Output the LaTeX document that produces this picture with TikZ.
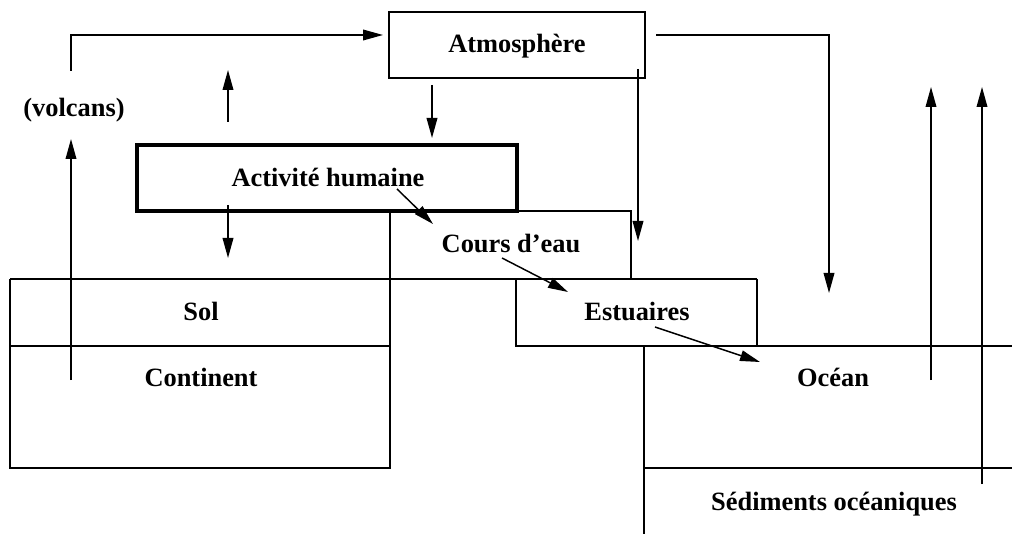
\documentclass[tikz,border=0pt]{standalone}
\usepackage{fontspec}
\setmainfont{Liberation Serif}
\usetikzlibrary{arrows.meta}
\begin{document}
\begin{tikzpicture}[x=0.75pt,y=-0.75pt,
  lbl/.style={inner sep=0pt,anchor=base,font=\fontsize{19.8pt}{22pt}\selectfont\bfseries},
  boxline/.style={line width=2.1pt},
  thickbox/.style={line width=2.7pt},
  flow/.style={line width=1.1pt,-{Triangle[length=15pt,width=8pt]}}]
\useasboundingbox (0,0) rectangle (1012,534);
% boxes
\draw[boxline] (389,12) rectangle (645,78);
\draw[thickbox] (137,145) rectangle (517,211);
\draw[boxline] (390,211) -- (390,279);
\draw[boxline] (517,211) -- (631,211) -- (631,279);
\draw[boxline] (10,279) -- (757,279);
\draw[boxline] (10,279) -- (10,468) -- (390,468) -- (390,279);
\draw[boxline] (10,346) -- (390,346);
\draw[boxline] (516,279) -- (516,346) -- (1012,346);
\draw[boxline] (757,279) -- (757,346);
\draw[boxline] (644,346) -- (644,534);
\draw[boxline] (644,468) -- (1012,468);
% labels
\node[lbl] (atm) at (517,53) {Atmosphère};
\node[lbl] (act) at (328,187) {Activité humaine};
\node[lbl] (cours) at (511,253) {Cours d’eau};
\node[lbl] (sol) at (201,320) {Sol};
\node[lbl] (cont) at (201,386) {Continent};
\node[lbl] (est) at (637,320) {Estuaires};
\node[lbl] (ocean) at (833,386) {Océan};
\node[lbl] (sed) at (834,510) {Sédiments océaniques};
\node[lbl] (volc) at (74,117) {(volcans)};
% arrow end points
\coordinate (a1s) at (71,71);
\coordinate (a1c) at (71,35);
\coordinate (a1e) at (383,35);
\coordinate (a2s) at (71,380);
\coordinate (a2e) at (71,139);
\coordinate (a3s) at (228,122);
\coordinate (a3e) at (228,70);
\coordinate (a4s) at (432,85);
\coordinate (a4e) at (432,138);
\coordinate (a5s) at (228,205);
\coordinate (a5e) at (228,258);
\coordinate (a6s) at (397,189);
\coordinate (a6e) at (433,224);
\coordinate (a7s) at (502,258);
\coordinate (a7e) at (568,292);
\coordinate (a8s) at (655,327);
\coordinate (a8e) at (760,362);
\coordinate (a9s) at (638,69);
\coordinate (a9e) at (638,241);
\coordinate (a10s) at (656,35);
\coordinate (a10c) at (829,35);
\coordinate (a10e) at (829,293);
\coordinate (a11s) at (931,380);
\coordinate (a11e) at (931,87);
\coordinate (a12s) at (982,484);
\coordinate (a12e) at (982,87);
% arrows
\draw[flow] (a1s) -- (a1c) -- (a1e);
\draw[flow] (a2s) -- (a2e);
\draw[flow] (a3s) -- (a3e);
\draw[flow] (a4s) -- (a4e);
\draw[flow] (a5s) -- (a5e);
\draw[flow] (a6s) -- (a6e);
\draw[flow] (a7s) -- (a7e);
\draw[flow] (a8s) -- (a8e);
\draw[flow] (a9s) -- (a9e);
\draw[flow] (a10s) -- (a10c) -- (a10e);
\draw[flow] (a11s) -- (a11e);
\draw[flow] (a12s) -- (a12e);
\end{tikzpicture}
\end{document}
